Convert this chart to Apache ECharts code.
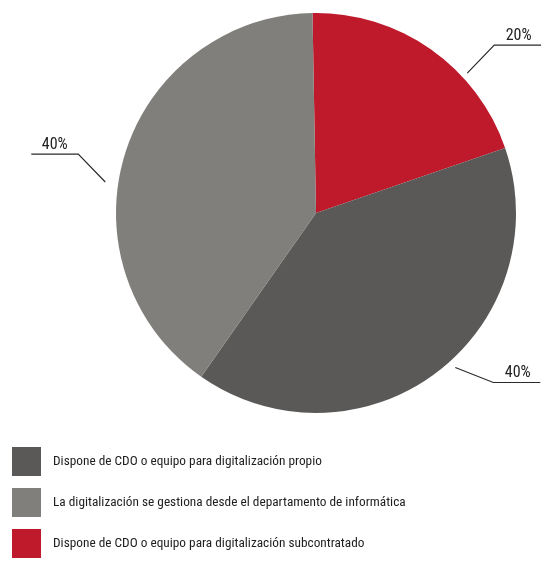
<!DOCTYPE html>
<html>
<head>
<meta charset="utf-8">
<script src="https://cdn.jsdelivr.net/npm/echarts@6/dist/echarts.min.js"></script>
<style>
  html, body { margin: 0; padding: 0; background: #ffffff; }
  #chart { width: 541px; height: 563px; }
</style>
</head>
<body>
<div id="chart"></div>
<script>
// Slice names (in drawing order, clockwise from the top)
const categories = [
  'Dispone de CDO o equipo para digitalización subcontratado',
  'Dispone de CDO o equipo para digitalización propio',
  'La digitalización se gestiona desde el departamento de informática'
];
// Share of each slice, in percent
const values = [20, 40, 40];
// Legend order
const legendOrder = [
  'Dispone de CDO o equipo para digitalización propio',
  'La digitalización se gestiona desde el departamento de informática',
  'Dispone de CDO o equipo para digitalización subcontratado'
];
const colors = ['#be1a2b', '#5a5957', '#807f7c'];

// Leader-line styling per slice: where along the arc it attaches (0..1),
// gap from the rim, and the diagonal segment before the horizontal tail.
const leaderStyle = [
  { along: 0.67, gap: 6,  dx: 27,  dy: -28 },
  { along: 0.465, gap: 8, dx: 38,  dy: 15 },
  { along: 0.44, gap: 13, dx: -27, dy: -28 }
];
const TAIL = 47;

const FONT = '"Liberation Sans Narrow", "Roboto Condensed", "Arial Narrow", Roboto, sans-serif';

const chart = echarts.init(document.getElementById('chart'), null, { renderer: 'canvas' });
const W = 541;

function sliceLayout(idx) {
  try {
    const s = chart.getModel().getSeriesByIndex(0);
    return s.getData().getItemLayout(idx);
  } catch (e) {
    return null;
  }
}

chart.setOption({
  animation: false,
  color: colors,
  legend: {
    data: legendOrder,
    orient: 'vertical',
    left: 12,
    top: 447,
    padding: 0,
    itemWidth: 29,
    itemHeight: 29,
    itemGap: 12,
    icon: 'rect',
    selectedMode: false,
    textStyle: { fontFamily: FONT, fontSize: 13.3, color: '#1e1e1e', padding: [0, 0, 0, 7] }
  },
  series: [{
    type: 'pie',
    center: [316, 213],
    radius: 200,
    startAngle: 91,
    clockwise: true,
    data: categories.map((n, i) => ({ name: n, value: values[i] })),
    itemStyle: { borderWidth: 0 },
    emphasis: { disabled: true },
    label: {
      show: true,
      position: 'outside',
      formatter: p => p.value + '%',
      fontFamily: FONT,
      fontSize: 16,
      color: '#222222',
      overflow: 'none',
      width: 60
    },
    labelLine: {
      show: true,
      length: 30,
      length2: TAIL,
      lineStyle: { color: '#2a2a2a', width: 1.2 }
    },
    labelLayout: function (params) {
      const lay = sliceLayout(params.dataIndex);
      const st = leaderStyle[params.dataIndex];
      let start, bend, end;
      if (lay && st) {
        const a = lay.startAngle + st.along * (lay.endAngle - lay.startAngle);
        const r = lay.r + st.gap;
        start = [lay.cx + r * Math.cos(a), lay.cy + r * Math.sin(a)];
        bend = [start[0] + st.dx, start[1] + st.dy];
      } else {
        const pts = params.labelLinePoints;
        if (!pts) return {};
        start = pts[0];
        bend = pts[1];
      }
      const right = st ? st.dx > 0 : true;
      end = [right ? Math.min(bend[0] + TAIL, W) : bend[0] - TAIL, bend[1]];
      return {
        x: (bend[0] + end[0]) / 2 + (right ? 1 : 0),
        y: bend[1] - 1,
        align: 'center',
        verticalAlign: 'bottom',
        width: 60,
        labelLinePoints: [start, bend, end]
      };
    }
  }]
});
</script>
</body>
</html>
